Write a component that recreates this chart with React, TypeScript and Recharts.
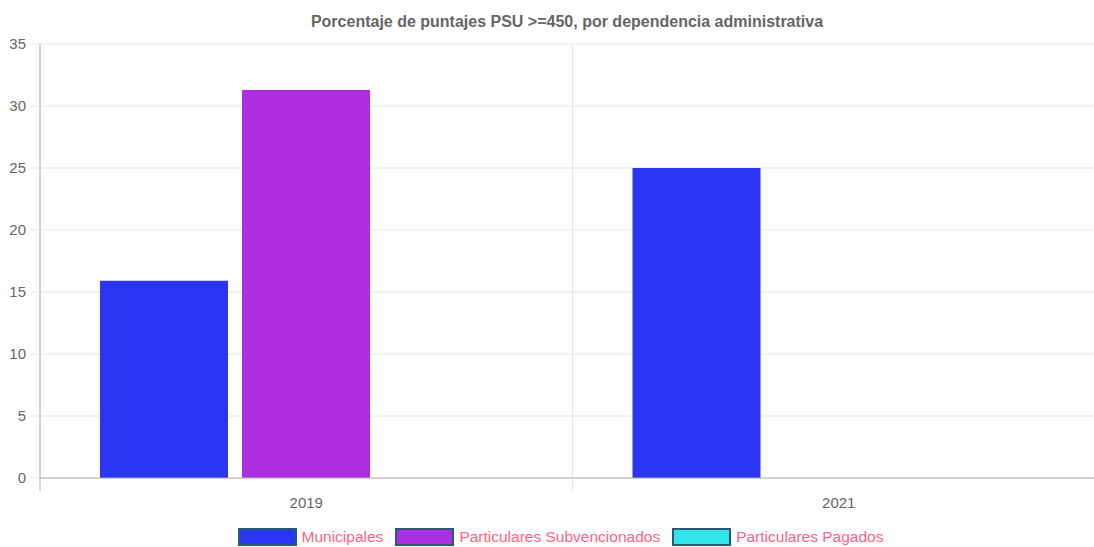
import React from 'react';
import { BarChart, Bar, XAxis, YAxis, CartesianGrid, Legend } from 'recharts';

const years = ['2019', '2021'];
const municipales = [15.9, 25];
const subvencionados = [31.3, 0];
const pagados = [0, 0];
const yTicks = [0, 5, 10, 15, 20, 25, 30, 35];

const series = [
  { key: 'municipales', name: 'Municipales', color: '#2b36f2' },
  { key: 'subvencionados', name: 'Particulares Subvencionados', color: '#ad2de0' },
  { key: 'pagados', name: 'Particulares Pagados', color: '#33e4e7' },
];

const data = years.map((year, i) => ({
  year,
  municipales: municipales[i],
  subvencionados: subvencionados[i],
  pagados: pagados[i],
}));

const W = 1105;
const H = 547;
const Y_W = 40;
const band = (W - Y_W) / years.length;

const XTick = (props: any) => {
  const { x, y, payload, index } = props;
  const left = x - band / 2;
  return (
    <g>
      <line x1={left} x2={left} y1={y} y2={y + 13} stroke={index === 0 ? '#b0b0b0' : '#e6e6e6'} />
      <text x={x} y={y + 30} textAnchor="middle" fill="#666" fontSize={15}>
        {payload.value}
      </text>
    </g>
  );
};

const LegendBox = () => (
  <div
    style={{
      display: 'flex',
      justifyContent: 'center',
      alignItems: 'center',
      height: 20,
      paddingLeft: 28,
      fontSize: 15.5,
      color: '#ff6384',
    }}
  >
    {series.map((s) => (
      <div key={s.key} style={{ display: 'flex', alignItems: 'center', marginRight: 12 }}>
        <span
          style={{
            width: 55,
            height: 14,
            background: s.color,
            border: '2px solid #245a7a',
            marginRight: 5,
          }}
        />
        <span>{s.name}</span>
      </div>
    ))}
  </div>
);

export default function App() {
  return (
    <div
      style={{
        position: 'absolute',
        left: 0,
        top: 0,
        width: 1094,
        height: H,
        overflow: 'hidden',
        background: '#fff',
        fontFamily: '"Liberation Sans", Arial, sans-serif',
      }}
    >
      <div
        style={{
          position: 'absolute',
          left: 0,
          top: 13,
          width: 1134,
          textAlign: 'center',
          fontWeight: 'bold',
          fontSize: 16,
          lineHeight: '18px',
          color: '#666',
        }}
      >
        Porcentaje de puntajes PSU &gt;=450, por dependencia administrativa
      </div>
      <BarChart width={W} height={H} data={data} margin={{ top: 44, right: 0, bottom: 0, left: 0 }} barSize={128} barGap={14}>
        <CartesianGrid
          stroke="#e6e6e6"
          verticalCoordinatesGenerator={({ offset }: any) =>
            years.map((_, i) => offset.left + (i * offset.width) / years.length)
          }
        />
        <XAxis
          dataKey="year"
          height={49}
          interval={0}
          tickSize={0}
          tickMargin={0}
          tickLine={false}
          axisLine={{ stroke: '#b0b0b0' }}
          tick={<XTick />}
        />
        <YAxis
          width={Y_W}
          domain={[0, 35]}
          ticks={yTicks}
          interval={0}
          tickSize={10}
          tickMargin={4}
          tickLine={{ stroke: '#e6e6e6' }}
          axisLine={{ stroke: '#b0b0b0' }}
          tick={{ fill: '#666', fontSize: 15 }}
        />
        <Legend verticalAlign="bottom" content={<LegendBox />} />
        {series.map((s) => (
          <Bar key={s.key} dataKey={s.key} name={s.name} fill={s.color} isAnimationActive={false} />
        ))}
      </BarChart>
    </div>
  );
}
